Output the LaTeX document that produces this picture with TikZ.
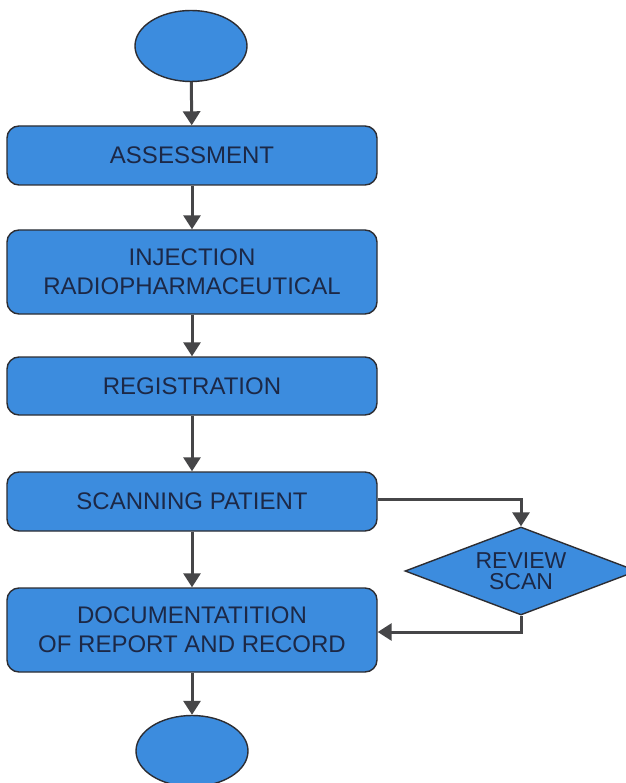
\documentclass[tikz,border=0pt]{standalone}
\usepackage{fontspec}
\setmainfont{Liberation Sans}
\usetikzlibrary{shapes.geometric,arrows.meta}
\definecolor{boxblue}{RGB}{60,140,222}
\definecolor{edgec}{RGB}{45,45,50}
\definecolor{txtc}{RGB}{28,40,70}
\definecolor{arrc}{RGB}{70,70,72}
\begin{document}
\begin{tikzpicture}[x=1pt,y=-1pt,
 stepbox/.style={draw=edgec, line width=1.4pt, fill=boxblue, rounded corners=12pt, minimum width=370pt, inner sep=0pt, text=txtc, font=\fontsize{24}{29}\selectfont, align=center},
 term/.style={draw=edgec, line width=1.4pt, fill=boxblue, ellipse, minimum width=112pt, minimum height=71pt, inner sep=0pt},
 decide/.style={draw=edgec, line width=1.4pt, fill=boxblue, diamond, aspect=2.64, minimum width=232pt, minimum height=88pt, inner sep=0pt, text=txtc, font=\fontsize{23}{21}\selectfont, align=center},
 conn/.style={draw=arrc, line width=3pt, -{Triangle[width=17pt,length=14pt]}}]
\useasboundingbox (0,0) rectangle (625,783);
\fill[white] (0,0) rectangle (625,783);
\node[term] (start) at (191,46) {};
\node[stepbox, minimum height=59pt] (assess) at (192,155.5) {ASSESSMENT};
\node[stepbox, minimum height=84pt] (inject) at (192,272) {INJECTION\\RADIOPHARMACEUTICAL};
\node[stepbox, minimum height=58pt] (regis) at (192,386) {REGISTRATION};
\node[stepbox, minimum height=59pt] (scan) at (192,501.5) {SCANNING PATIENT};
\node[stepbox, minimum height=84pt] (doc) at (192,630) {DOCUMENTATITION\\OF REPORT AND RECORD};
\node[term] (stop) at (192,751) {};
\node[decide] (rev) at (521,571) {REVIEW\\SCAN};
\draw[conn] (start) -- (assess);
\draw[conn] (assess) -- (inject);
\draw[conn] (inject) -- (regis);
\draw[conn] (regis) -- (scan);
\draw[conn] (scan) -- (doc);
\draw[conn] (doc) -- (stop);
\draw[conn] ([yshift=2.5pt]scan.east) -| (rev.north);
\draw[conn] (rev.south) |- ([yshift=-2pt]doc.east);
\end{tikzpicture}
\end{document}
